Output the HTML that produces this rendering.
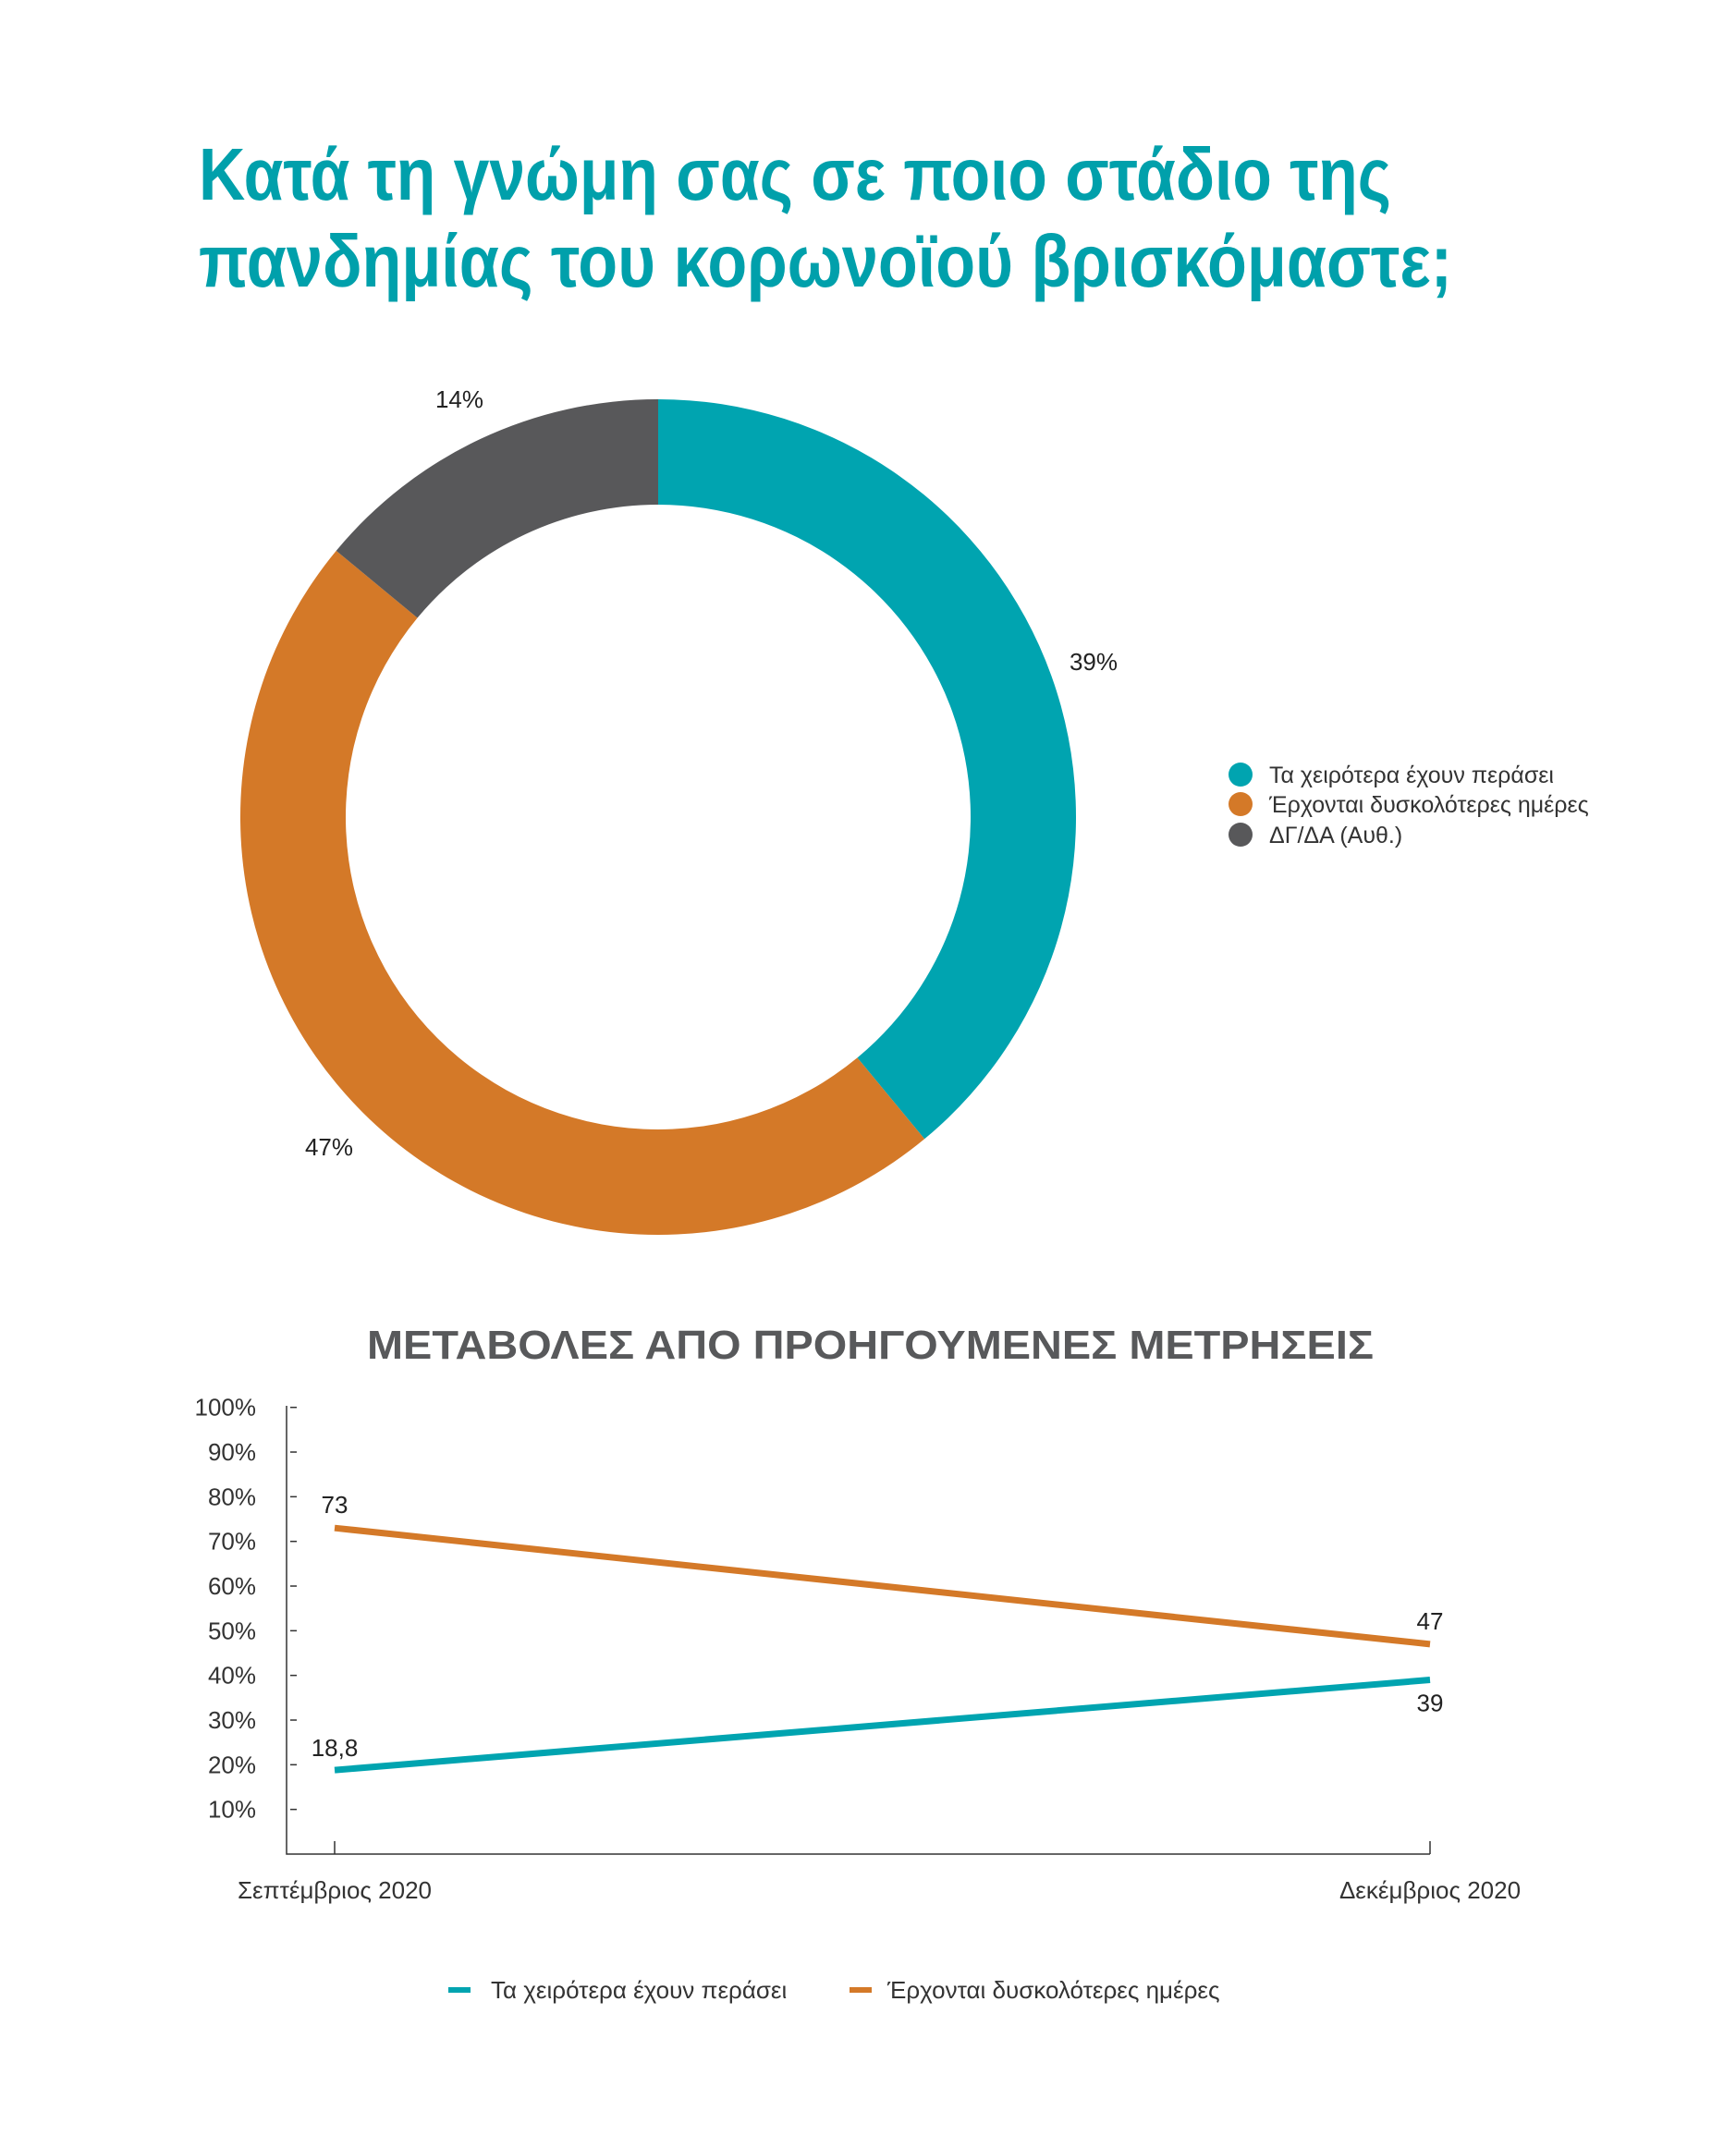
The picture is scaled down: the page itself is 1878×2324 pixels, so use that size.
<!DOCTYPE html>
<html><head><meta charset="utf-8"><style>
body{margin:0;background:#fff;width:1878px;height:2319px;overflow:hidden;font-family:"Liberation Sans","DejaVu Sans",sans-serif}
svg text{font-family:"Liberation Sans","DejaVu Sans",sans-serif}
</style></head><body>
<svg id="chart" width="1878" height="2319" viewBox="0 0 1878 2319" xmlns="http://www.w3.org/2000/svg">
<text x="215" y="216" font-size="80" font-weight="bold" fill="#00a0ab" textLength="1290" lengthAdjust="spacingAndGlyphs">Κατά τη γνώμη σας σε ποιο στάδιο της</text>
<text x="215" y="310" font-size="80" font-weight="bold" fill="#00a0ab" textLength="1356" lengthAdjust="spacingAndGlyphs">πανδημίας του κορωνοϊού βρισκόμαστε;</text>
<g id="donut"></g>
<g>
<circle cx="1342" cy="838" r="13" fill="#00a4b0"/>
<text x="1373" y="847" font-size="25" fill="#333">Τα χειρότερα έχουν περάσει</text>
<circle cx="1342" cy="870" r="13" fill="#d47928"/>
<text x="1373" y="879" font-size="25" fill="#333">Έρχονται δυσκολότερες ημέρες</text>
<circle cx="1342" cy="903" r="13" fill="#58585a"/>
<text x="1373" y="912" font-size="25" fill="#333">ΔΓ/ΔΑ (Αυθ.)</text>
</g>
<text x="397" y="1470" font-size="44" font-weight="bold" fill="#58595b" textLength="1089" lengthAdjust="spacingAndGlyphs">ΜΕΤΑΒΟΛΕΣ ΑΠΟ ΠΡΟΗΓΟΥΜΕΝΕΣ ΜΕΤΡΗΣΕΙΣ</text>
<g id="line"></g>
<g>
<rect x="485" y="2150" width="24" height="6" fill="#00a4b0"/>
<text x="531" y="2162" font-size="26" fill="#333">Τα χειρότερα έχουν περάσει</text>
<rect x="919" y="2150" width="24" height="6" fill="#d47928"/>
<text x="960" y="2162" font-size="26" fill="#333">Έρχονται δυσκολότερες ημέρες</text>
</g>
</svg>
<script>
const donutLabels=["Τα χειρότερα έχουν περάσει","Έρχονται δυσκολότερες ημέρες","ΔΓ/ΔΑ (Αυθ.)"];
const donutValues=[39,47,14];
const donutColors=["#00a4b0","#d47928","#58585a"];
const months=["Σεπτέμβριος 2020","Δεκέμβριος 2020"];
const seriesBetter=[18.8,39];
const seriesWorse=[73,47];
const betterLabels=["18,8","39"];
const worseLabels=["73","47"];
const yTicks=[10,20,30,40,50,60,70,80,90,100];
const NS="http://www.w3.org/2000/svg";
function mk(tag,attrs,parent){const e=document.createElementNS(NS,tag);for(const k in attrs)e.setAttribute(k,attrs[k]);parent.appendChild(e);return e;}
const dg=document.getElementById('donut');
const cx=712,cy=884,R=452,r=338;
const total=donutValues.reduce((a,b)=>a+b,0);
let start=0;
const labelPos=[[1183,725],[356,1250],[497,441]];
donutValues.forEach((v,i)=>{
  const a0=start/total*2*Math.PI,a1=(start+v)/total*2*Math.PI;start+=v;
  const p=(a,rad)=>[cx+rad*Math.sin(a),cy-rad*Math.cos(a)];
  const [x0,y0]=p(a0,R),[x1,y1]=p(a1,R),[x2,y2]=p(a1,r),[x3,y3]=p(a0,r);
  const lg=(a1-a0)>Math.PI?1:0;
  const path=mk('path',{d:`M${x0},${y0}A${R},${R} 0 ${lg} 1 ${x1},${y1}L${x2},${y2}A${r},${r} 0 ${lg} 0 ${x3},${y3}Z`,fill:donutColors[i]},dg);
  
  
  const t=mk('text',{x:labelPos[i][0],y:labelPos[i][1],'font-size':26,fill:'#222','text-anchor':'middle'},dg);
  t.textContent=v+'%';
  
  
});
const lg=document.getElementById('line');
const x0=362,x1=1547,yBase=2006,yUnit=4.833;
const X=i=>x0+(x1-x0)*i/(months.length-1);
const Y=v=>yBase-v*yUnit;
const ax=mk('path',{d:`M310,1521V${yBase}H${x1}`,stroke:'#333','stroke-width':1.5,fill:'none'},lg);


yTicks.forEach(v=>{
  const tk=mk('line',{x1:314,x2:321,y1:Y(v),y2:Y(v),stroke:'#333','stroke-width':1.5},lg);
  
  
  const t=mk('text',{x:277,y:Y(v)+9,'font-size':26,fill:'#333','text-anchor':'end'},lg);
  t.textContent=v+'%';
  
  
});
months.forEach((m,i)=>{
  const tk=mk('line',{x1:X(i),x2:X(i),y1:yBase-14,y2:yBase,stroke:'#333','stroke-width':1.5},lg);
  
  
  const t=mk('text',{x:X(i),y:2054,'font-size':26,fill:'#333','text-anchor':'middle'},lg);
  t.textContent=m;
  
  
});
function series(vals,labs,color,name,offs){
  const pl=mk('polyline',{points:vals.map((v,i)=>X(i)+','+Y(v)).join(' '),stroke:color,'stroke-width':7,fill:'none'},lg);
  
  
  vals.forEach((v,i)=>{
    const t=mk('text',{x:X(i),y:Y(v)+offs[i],'font-size':26,fill:'#222','text-anchor':'middle'},lg);
    t.textContent=labs[i];
    
    
  });
}
series(seriesWorse,worseLabels,'#d47928','worse',[-16,-16]);
series(seriesBetter,betterLabels,'#00a4b0','better',[-15,34]);
</script>
</body></html>
